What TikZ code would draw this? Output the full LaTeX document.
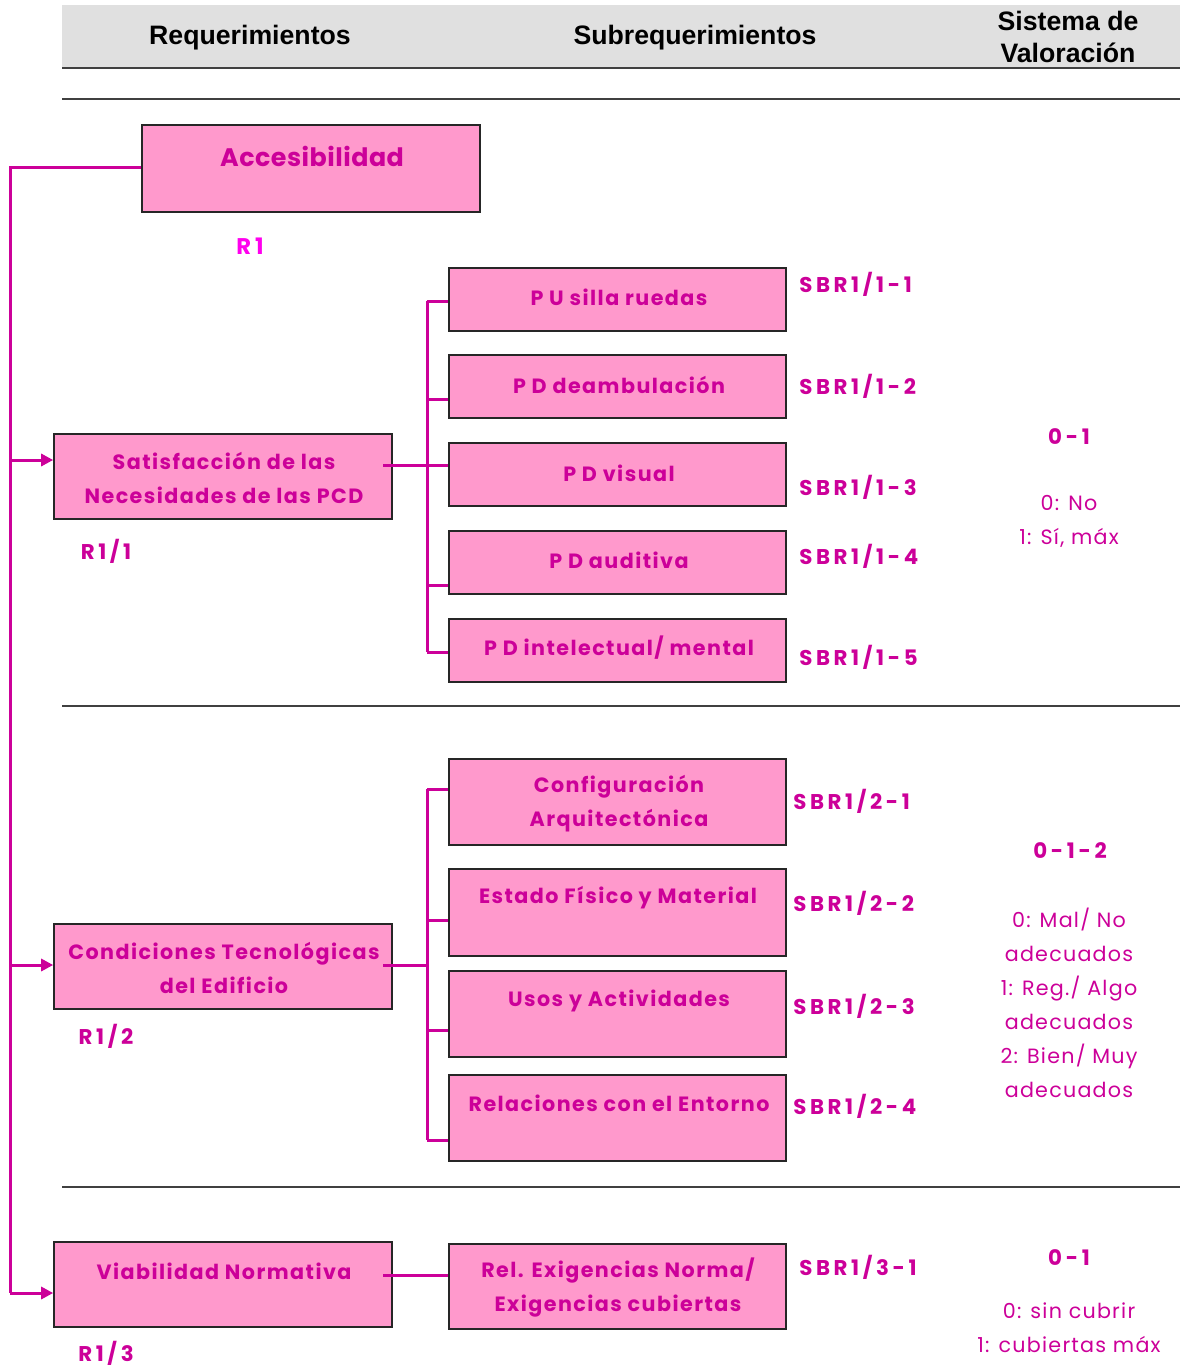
\documentclass[tikz,border=0pt]{standalone}
\usepackage{fontspec}
\setmainfont{Poppins}
\newfontfamily\hdrfont{Liberation Sans}
\newfontfamily\pkbox[LetterSpace=7]{Poppins}
\newfontfamily\pkbig[LetterSpace=2]{Poppins}
\newfontfamily\pkcode[LetterSpace=17]{Poppins}
\newfontfamily\pkval[LetterSpace=6]{Poppins}
\usetikzlibrary{arrows.meta}
\definecolor{boxpink}{HTML}{FF99CC}
\definecolor{txtpink}{HTML}{CC0099}
\definecolor{lnk}{HTML}{CC0099}
\definecolor{brightpink}{HTML}{FF00EE}
\definecolor{headgray}{HTML}{E0E0E0}
\definecolor{rulegray}{HTML}{404040}
\tikzset{
  box/.style={draw=black!85, fill=boxpink, line width=1.2pt, inner sep=0pt},
  wbox/.style={box, minimum width=253.5pt},
  conn/.style={draw=lnk, line width=2.25pt},
  arr/.style={conn, -{Triangle[length=9pt,width=9pt]}},
  ptxt/.style={text=txtpink, font=\pkbox\bfseries\fontsize{15.5}{25.5}\selectfont, align=center, inner sep=0pt},
  bigtxt/.style={text=txtpink, font=\pkbig\bfseries\fontsize{19}{22}\selectfont, inner sep=0pt},
  code/.style={text=txtpink, font=\pkcode\bfseries\fontsize{16}{18}\selectfont, anchor=west, inner sep=0pt},
  rlab/.style={text=txtpink, font=\pkcode\bfseries\fontsize{16}{18}\selectfont, inner sep=0pt},
  vtxt/.style={text=txtpink, font=\pkval\fontsize{15.5}{25.5}\selectfont, align=center, inner sep=0pt},
  vhead/.style={text=txtpink, font=\pkcode\bfseries\fontsize{16}{18}\selectfont, inner sep=0pt},
  htxt/.style={font=\hdrfont\bfseries\fontsize{20}{23.5}\selectfont, align=center, inner sep=0pt},
  hrule/.style={draw=rulegray, line width=1.5pt},
}
\begin{document}
\begin{tikzpicture}[x=0.75pt,y=-0.75pt]
\useasboundingbox (0,0) rectangle (1180,1367);
% header
\fill[headgray] (62,5) rectangle (1180,68);
\coordinate (hl0) at (62,68); \coordinate (hl1) at (1180,68);
\draw[hrule] (hl0) -- (hl1);
\node[htxt] (hreq) at (250,38) {Requerimientos};
\node[htxt] (hsub) at (695,38) {Subrequerimientos};
\node[htxt] (hsis) at (1068,37) {Sistema de\\Valoración};
% separator rules
\coordinate (r0a) at (62,99); \coordinate (r0b) at (1180,99);
\coordinate (r1a) at (62,706); \coordinate (r1b) at (1180,706);
\coordinate (r2a) at (62,1187); \coordinate (r2b) at (1180,1187);
\draw[hrule] (r0a) -- (r0b);
\draw[hrule] (r1a) -- (r1b);
\draw[hrule] (r2a) -- (r2b);

% main box
\node[box, minimum width=253.5pt, minimum height=65.25pt] (acc) at (311,168.5) {};
\node[bigtxt] (acct) at (312,156) {Accesibilidad};
\node[text=brightpink, font=\pkcode\bfseries\fontsize{17}{18}\selectfont, inner sep=0pt] (r1) at (250,246) {R1};

% requirement boxes
\node[wbox, minimum height=63.75pt] (sat) at (223,476.5) {};
\node[ptxt] (satt) at (224,478) {Satisfacción de las\\Necesidades de las PCD};
\node[rlab] (r11) at (106,551) {R1/1};

\node[wbox, minimum height=63.75pt] (cond) at (223,966.5) {};
\node[ptxt] (condt) at (224,968) {Condiciones Tecnológicas\\del Edificio};
\node[rlab] (r12) at (106,1036) {R1/2};

\node[wbox, minimum height=63.75pt] (via) at (223,1284.5) {};
\node[ptxt] (viat) at (224,1271) {Viabilidad Normativa};
\node[rlab] (r13) at (106,1353) {R1/3};

% sub boxes section 1
\node[box, minimum width=252.75pt, minimum height=47.25pt] (p1) at (617.5,299.5) {};
\node[box, minimum width=252.75pt, minimum height=47.25pt] (p2) at (617.5,386.5) {};
\node[box, minimum width=252.75pt, minimum height=47.25pt] (p3) at (617.5,474.5) {};
\node[box, minimum width=252.75pt, minimum height=47.25pt] (p4) at (617.5,562.5) {};
\node[box, minimum width=252.75pt, minimum height=47.25pt] (p5) at (617.5,650.5) {};
\node[ptxt] (p1t) at (619,297) {P U silla ruedas};
\node[ptxt] (p2t) at (619,385) {P D deambulación};
\node[ptxt] (p3t) at (619,473) {P D visual};
\node[ptxt] (p4t) at (619,560) {P D auditiva};
\node[ptxt] (p5t) at (619,648) {P D intelectual/ mental};
\node[code] (s11) at (799,284) {SBR1/1-1};
\node[code] (s12) at (799,386) {SBR1/1-2};
\node[code] (s13) at (799,487) {SBR1/1-3};
\node[code] (s14) at (799,556) {SBR1/1-4};
\node[code] (s15) at (799,657) {SBR1/1-5};
\node[vhead] (v1h) at (1069,437) {0-1};
\node[vtxt] (v1t) at (1069,521) {0: No\\1: Sí, máx};

% sub boxes section 2
\node[box, minimum width=252.75pt, minimum height=64.5pt] (c1) at (617.5,802) {};
\node[box, minimum width=252.75pt, minimum height=65.25pt] (c2) at (617.5,912.5) {};
\node[box, minimum width=252.75pt, minimum height=64.5pt] (c3) at (617.5,1014) {};
\node[box, minimum width=252.75pt, minimum height=64.5pt] (c4) at (617.5,1118) {};
\node[ptxt] (c1t) at (619,804) {Configuración\\Arquitectónica};
\node[ptxt] (c2t) at (618,898) {Estado Físico y Material};
\node[ptxt] (c3t) at (619,1001) {Usos y Actividades};
\node[ptxt] (c4t) at (619,1103) {Relaciones con el Entorno};
\node[code] (s21) at (793,801) {SBR1/2-1};
\node[code] (s22) at (793,903) {SBR1/2-2};
\node[code] (s23) at (793,1006) {SBR1/2-3};
\node[code] (s24) at (793,1106) {SBR1/2-4};
\node[vhead] (v2h) at (1070,851) {0-1-2};
\node[vtxt] (v2t) at (1069,1003) {0: Mal/ No\\adecuados\\1: Reg./ Algo\\adecuados\\2: Bien/ Muy\\adecuados};

% section 3
\node[box, minimum width=252.75pt, minimum height=63.75pt] (rel) at (617.5,1286.5) {};
\node[ptxt] (relt) at (618,1288) {Rel. Exigencias Norma/\\Exigencias cubiertas};
\node[code] (s31) at (799,1267) {SBR1/3-1};
\node[vhead] (v3h) at (1069,1258) {0-1};
\node[vtxt] (v3t) at (1069,1328) {0: sin cubrir\\1: cubiertas máx};

% spine
\coordinate (sp0) at (10,167);
\coordinate (j1) at (10,460);
\coordinate (j2) at (10,965);
\coordinate (j3) at (10,1293);
\draw[conn] (acc.west |- sp0) -- (sp0) -- (j3);
\draw[arr] (j1) -- (j1 -| sat.west);
\draw[arr] (j2) -- (j2 -| cond.west);
\draw[arr] (j3) -- (j3 -| via.west);

% bracket 1
\coordinate (k1) at (427,301);
\coordinate (k2) at (427,399);
\coordinate (k3) at (427,465);
\coordinate (k4) at (427,585);
\coordinate (k5) at (427,652);
\coordinate (m1) at (383,465);
\draw[conn] (k1) -- (k5);
\draw[conn] (k1) -- (k1 -| p1.west);
\draw[conn] (k2) -- (k2 -| p2.west);
\draw[conn] (k4) -- (k4 -| p4.west);
\draw[conn] (k5) -- (k5 -| p5.west);
\draw[conn] (m1) -- (m1 -| p3.west);

% bracket 2
\coordinate (q1) at (427,789);
\coordinate (q2) at (427,920);
\coordinate (q3) at (427,1030);
\coordinate (q4) at (427,1140);
\coordinate (m2) at (383,965);
\draw[conn] (q1) -- (q4);
\draw[conn] (q1) -- (q1 -| c1.west);
\draw[conn] (q2) -- (q2 -| c2.west);
\draw[conn] (q3) -- (q3 -| c3.west);
\draw[conn] (q4) -- (q4 -| c4.west);
\draw[conn] (m2) -- (m2 -| q2);

% section 3 connector
\coordinate (m3) at (383,1275);
\draw[conn] (m3) -- (m3 -| rel.west);
\end{tikzpicture}
\end{document}
